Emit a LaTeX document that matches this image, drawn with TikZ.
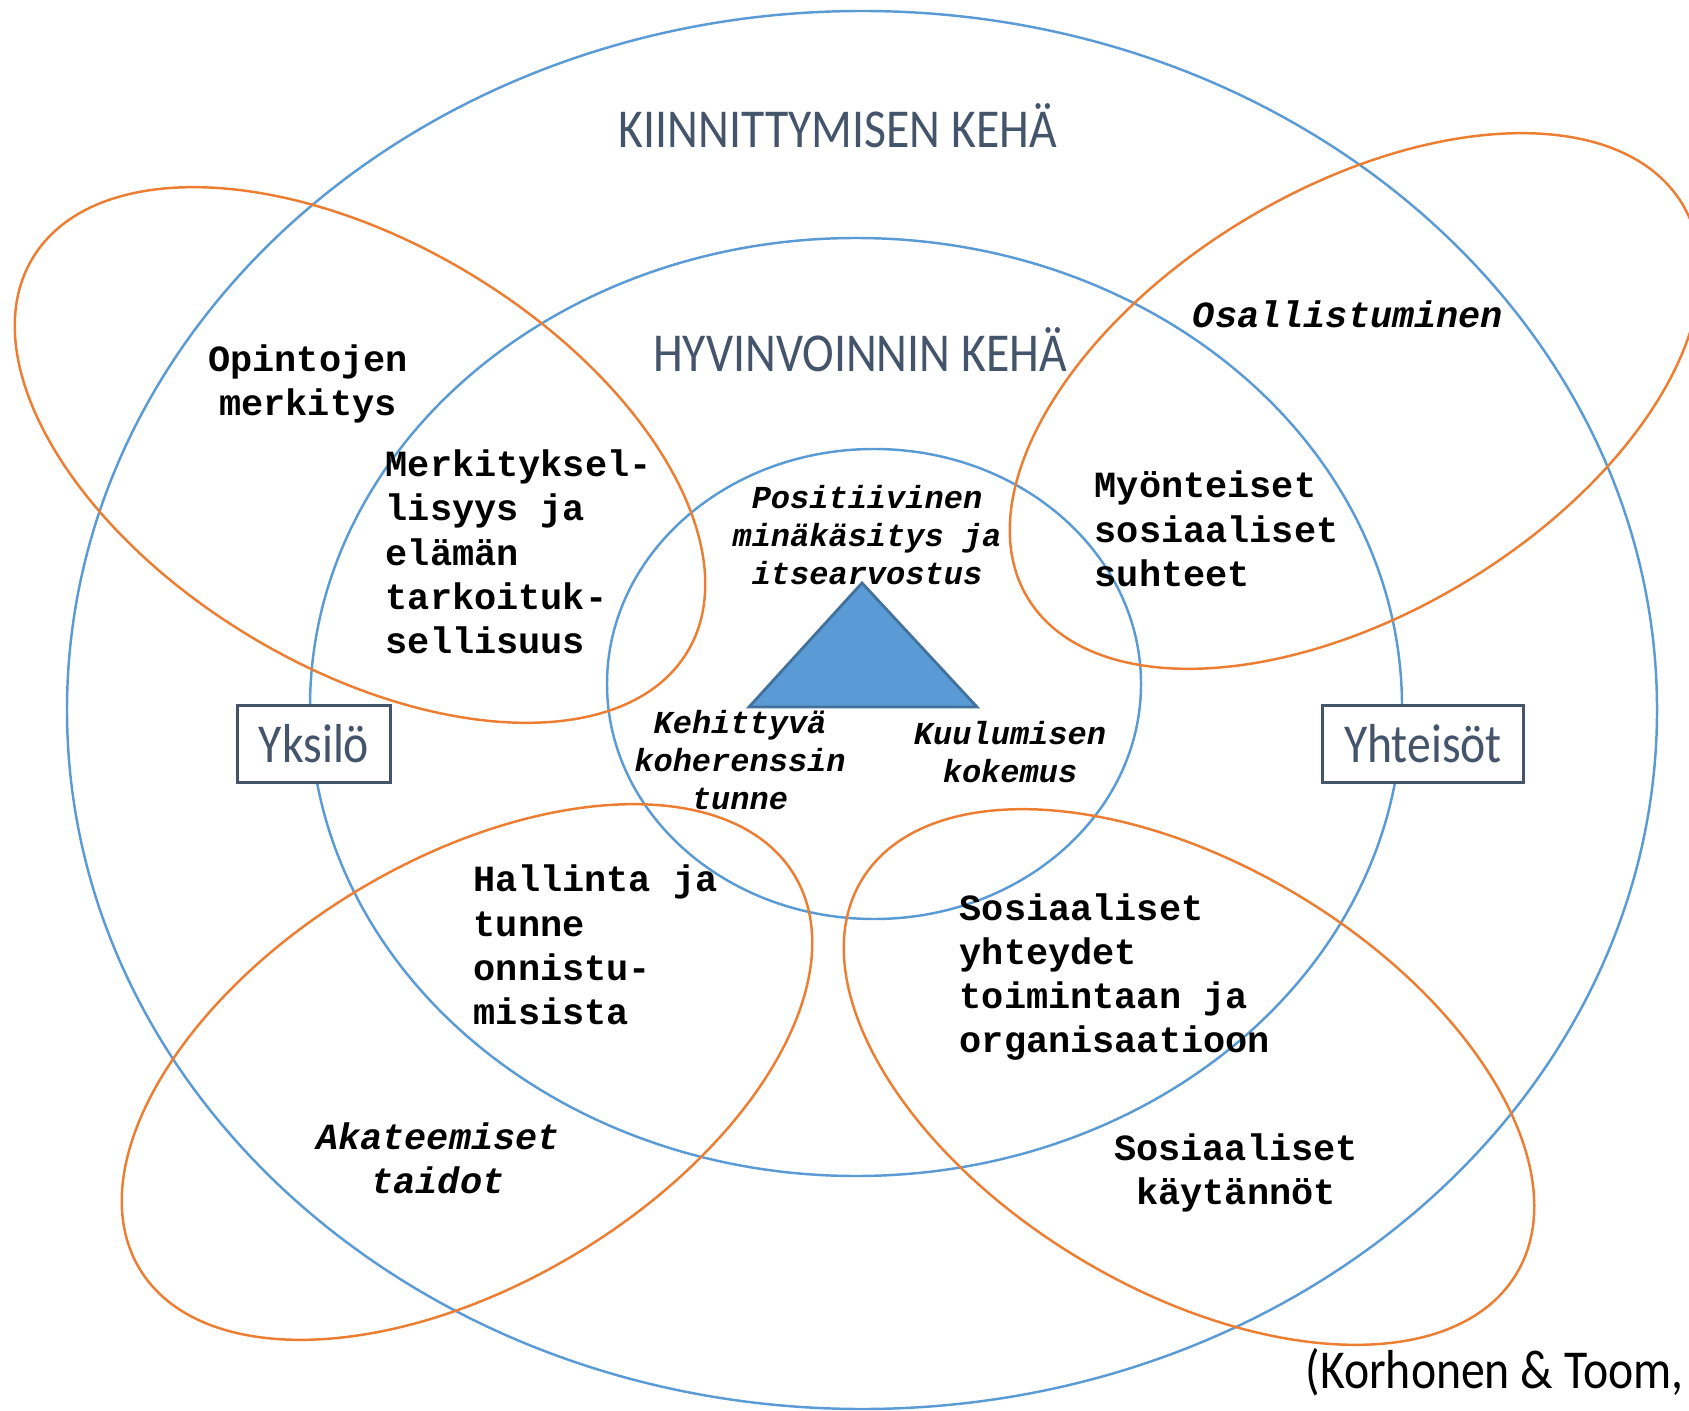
\documentclass[tikz,border=0pt]{standalone}
\usepackage{fontspec}
\usepackage{xcolor}
\usepackage{tikz}
\newfontfamily\headfont[FakeStretch=0.87]{Carlito}
\newfontfamily\bodyfont{Liberation Mono}
\definecolor{kehablue}{HTML}{5B9BD5}
\definecolor{osaorange}{HTML}{ED7D31}
\definecolor{headgray}{HTML}{44546A}
\definecolor{triborder}{HTML}{41719C}
\tikzstyle{kehaline} = [draw=kehablue, line width=0.7pt]
\tikzstyle{osaline} = [draw=osaorange, line width=0.7pt]
\tikzstyle{heading} = [font=\headfont\fontsize{15.6}{18}\selectfont, text=headgray, inner sep=0pt]
\tikzstyle{sidebox} = [heading, draw=headgray, fill=white, line width=0.8pt, inner xsep=0.215cm, minimum height=0.77cm]
\tikzstyle{boldlabel} = [font=\bodyfont\bfseries\fontsize{10.5}{12.6}\selectfont, align=left, inner sep=0pt]
\tikzstyle{itallabel} = [font=\bodyfont\bfseries\itshape\fontsize{10.5}{12.6}\selectfont, align=center, inner sep=0pt]
\tikzstyle{smalllabel} = [font=\bodyfont\bfseries\itshape\fontsize{9.1}{10.7}\selectfont, align=center, inner sep=0pt]

\begin{document}
\begin{tikzpicture}[x=0.01cm, y=-0.01cm]
	\useasboundingbox (0,0) rectangle (1689,1410);
	\clip (0,0) rectangle (1689,1410);

	% kehät
	\draw [kehaline] (862,710) ellipse [x radius=795, y radius=699];
	\draw [kehaline] (856,707) ellipse [x radius=546, y radius=469];
	\draw [kehaline] (874,684) ellipse [x radius=267, y radius=235];

	% oranssit
	\draw [osaline, rotate around={-31:(360,455)}] (360,455) ellipse [x radius=382, y radius=212];
	\draw [osaline, rotate around={31:(1355,401)}] (1355,401) ellipse [x radius=382, y radius=212];
	\draw [osaline, rotate around={31:(467,1072)}] (467,1072) ellipse [x radius=382, y radius=212];
	\draw [osaline, rotate around={-31:(1189,1077)}] (1189,1077) ellipse [x radius=382, y radius=212];

	% kolmio
	\coordinate (huippu) at (862,583);
	\coordinate (vasen) at (749,707);
	\coordinate (oikea) at (977,707);
	\draw [fill=kehablue, draw=triborder, line width=0.8pt] (huippu) -- (oikea) -- (vasen) -- cycle;

	\node (kiinn) [heading, anchor=base] at (838,148) {KIINNITTYMISEN KEHÄ};
	\node (hyvin) [heading, anchor=base] at (860,372) {HYVINVOINNIN KEHÄ};
	\node (yksilo) [sidebox] at (314,744) {Yksilö};
	\node (yhteisot) [sidebox] at (1423,744) {Yhteisöt};

	\node (opinnot) [boldlabel, align=center] at (308,384) {Opintojen\\merkitys};
	\node (merkitys) [boldlabel, anchor=west] at (385,552) {Merkityksel-\\lisyys ja\\elämän\\tarkoituk-\\sellisuus};
	\node (myonteiset) [boldlabel, anchor=west] at (1094,529) {Myönteiset\\sosiaaliset\\suhteet};
	\node (osallistuminen) [itallabel] at (1348,314) {Osallistuminen};
	\node (hallinta) [boldlabel, anchor=west] at (473,945) {Hallinta ja\\tunne\\onnistu-\\misista};
	\node (yhteydet) [boldlabel, anchor=west] at (959,977) {Sosiaaliset\\yhteydet\\toimintaan ja\\organisaatioon};
	\node (akateemiset) [itallabel] at (438,1158) {Akateemiset\\taidot};
	\node (kaytannot) [boldlabel, align=center] at (1236,1173) {Sosiaaliset\\käytännöt};

	\node (minakasitys) [smalllabel] at (867,535) {Positiivinen\\minäkäsitys ja\\itsearvostus};
	\node (koherenssi) [smalllabel] at (740,760) {Kehittyvä\\koherenssin\\tunne};
	\node (kuuluminen) [smalllabel] at (1010,752) {Kuulumisen\\kokemus};

	\node (lahde) [heading, text=black, anchor=base west] at (1305,1388) {(Korhonen \& Toom,};
\end{tikzpicture}
\end{document}
